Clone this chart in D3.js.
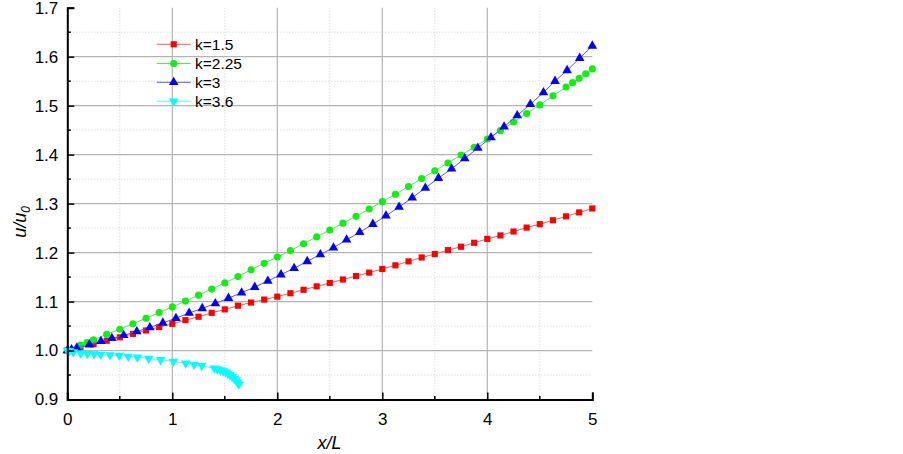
<!DOCTYPE html>
<html>
<head>
<meta charset="utf-8">
<script src="https://cdn.jsdelivr.net/npm/d3@7"></script>
<style>
  body { margin: 0; background: #fff; }
  svg { display: block; font-family: Arial, "Liberation Sans", sans-serif; }
</style>
</head>
<body>
<svg id="chart" width="903" height="454"></svg>
<script>
// ---------- data ----------
const seriesNames = ["k=1.5", "k=2.25", "k=3", "k=3.6"];

const xK15 = [0,0.125,0.25,0.375,0.5,0.625,0.75,0.875,1,1.125,1.25,1.375,1.5,1.625,1.75,1.875,2,2.125,2.25,2.375,2.5,2.625,2.75,2.875,3,3.125,3.25,3.375,3.5,3.625,3.75,3.875,4,4.125,4.25,4.375,4.5,4.625,4.75,4.875,5];
const yK15 = [1.000,1.0065,1.013,1.020,1.027,1.034,1.041,1.048,1.0545,1.062,1.069,1.077,1.084,1.0915,1.098,1.104,1.110,1.117,1.124,1.131,1.138,1.145,1.152,1.159,1.1665,1.174,1.182,1.190,1.197,1.205,1.212,1.220,1.228,1.235,1.243,1.251,1.258,1.266,1.274,1.282,1.290];

const xK225 = [0,0.125,0.1875,0.25,0.375,0.5,0.625,0.75,0.875,1,1.125,1.25,1.375,1.5,1.625,1.75,1.875,2,2.125,2.25,2.375,2.5,2.625,2.75,2.875,3,3.125,3.25,3.375,3.5,3.625,3.75,3.875,4,4.125,4.25,4.375,4.5,4.625,4.75,4.8125,4.875,4.9375,5];
const yK225 = [1.000,1.011,1.0165,1.022,1.033,1.0435,1.0545,1.066,1.0775,1.089,1.101,1.113,1.1255,1.138,1.151,1.165,1.178,1.191,1.204,1.218,1.232,1.246,1.260,1.274,1.289,1.304,1.319,1.335,1.351,1.367,1.383,1.399,1.415,1.432,1.449,1.4665,1.484,1.5015,1.520,1.538,1.547,1.556,1.565,1.575];

const xK3 = [0,0.04,0.09,0.21,0.32,0.425,0.537,0.662,0.786,0.91,1.035,1.16,1.285,1.41,1.535,1.66,1.785,1.91,2.035,2.16,2.285,2.41,2.535,2.66,2.785,2.91,3.035,3.16,3.285,3.41,3.535,3.66,3.785,3.91,4.035,4.16,4.285,4.41,4.535,4.645,4.76,4.88,5];
const yK3 = [1.000,1.002,1.005,1.012,1.019,1.025,1.031,1.039,1.047,1.0565,1.066,1.0765,1.086,1.096,1.107,1.118,1.1295,1.142,1.155,1.168,1.182,1.196,1.210,1.226,1.2415,1.258,1.275,1.293,1.312,1.332,1.352,1.371,1.392,1.4135,1.435,1.457,1.480,1.503,1.527,1.550,1.572,1.597,1.622];

const xK36 = [0,0.02,0.057,0.128,0.19,0.254,0.318,0.407,0.495,0.58,0.667,0.775,0.889,1.01,1.127,1.207,1.28,1.40,1.43,1.46,1.486,1.51,1.53,1.55,1.57,1.59,1.607,1.622,1.635];
const yK36 = [1.000,0.999,0.9967,0.9947,0.9935,0.9928,0.992,0.991,0.9897,0.988,0.9862,0.9838,0.981,0.9776,0.974,0.9714,0.9688,0.9637,0.962,0.960,0.958,0.9555,0.953,0.950,0.9465,0.9425,0.939,0.935,0.931];

const xTicks = [0,1,2,3,4,5];
const yTicks = [0.9,1.0,1.1,1.2,1.3,1.4,1.5,1.6,1.7];
const xMinor = [0.5,1.5,2.5,3.5,4.5];
const yMinor = [0.95,1.05,1.15,1.25,1.35,1.45,1.55,1.65];

// ---------- layout ----------
const svg = d3.select("#chart");
const pLeft = 67.3, pRight = 592.3, pTop = 7.7, pBottom = 399.5;
const x = d3.scaleLinear().domain([0,5]).range([pLeft,pRight]);
const y = d3.scaleLinear().domain([0.9,1.7]).range([pBottom,pTop]);

const series = [
  {name: seriesNames[0], xs: xK15, ys: yK15, line: "#ff5a5a", fill: "#ff0000", sym: d3.symbolSquare, size: 38, rot: 0},
  {name: seriesNames[1], xs: xK225, ys: yK225, line: "#55e855", fill: "#11ee11", sym: d3.symbolCircle, size: 40, rot: 0},
  {name: seriesNames[2], xs: xK3, ys: yK3, line: "#5555ff", fill: "#0000ff", sym: d3.symbolTriangle, size: 40, rot: 0},
  {name: seriesNames[3], xs: xK36, ys: yK36, line: "#55ffff", fill: "#00ffff", sym: d3.symbolTriangle, size: 40, rot: 180}
];

// ---------- grid ----------
const grid = svg.append("g");
grid.selectAll(".vmin").data(xMinor).join("line")
  .attr("x1", d => x(d)).attr("x2", d => x(d)).attr("y1", pTop).attr("y2", pBottom)
  .attr("stroke", "#cfcfcf").attr("stroke-width", 1).attr("stroke-dasharray", "1,2");
grid.selectAll(".hmin").data(yMinor).join("line")
  .attr("x1", pLeft).attr("x2", pRight).attr("y1", d => y(d)).attr("y2", d => y(d))
  .attr("stroke", "#cfcfcf").attr("stroke-width", 1).attr("stroke-dasharray", "1,2");
grid.selectAll(".vmaj").data(xTicks.filter(d => d > 0 && d < 5)).join("line")
  .attr("x1", d => x(d)).attr("x2", d => x(d)).attr("y1", pTop).attr("y2", pBottom)
  .attr("stroke", "#b4b4b4").attr("stroke-width", 1.2);
grid.selectAll(".hmaj").data(yTicks.filter(d => d > 0.95 && d < 1.65)).join("line")
  .attr("x1", pLeft).attr("x2", pRight).attr("y1", d => y(d)).attr("y2", d => y(d))
  .attr("stroke", "#b4b4b4").attr("stroke-width", 1.2);

// ---------- series ----------
const lineGen = d3.line().x(d => x(d[0])).y(d => y(d[1]));
series.forEach(s => {
  const pts = s.xs.map((v, i) => [v, s.ys[i]]);
  svg.append("path").datum(pts)
    .attr("d", lineGen).attr("fill", "none")
    .attr("stroke", s.line).attr("stroke-width", 1);
  const sym = d3.symbol().type(s.sym).size(s.size);
  svg.append("g").selectAll("path").data(pts).join("path")
    .attr("d", sym)
    .attr("transform", d => `translate(${x(d[0])},${y(d[1])}) rotate(${s.rot})`)
    .attr("fill", s.fill);
});

// ---------- axes ----------
const axisG = svg.append("g");
const xAxis = axisG.append("g").attr("transform", `translate(0,${pBottom})`)
  .call(d3.axisBottom(x).tickValues(xTicks).tickSize(-7).tickPadding(14).tickFormat(d3.format("d")));
const yAxis = axisG.append("g").attr("transform", `translate(${pLeft},0)`)
  .call(d3.axisLeft(y).tickValues(yTicks).tickSize(-7).tickPadding(9).tickFormat(d3.format(".1f")));
[xAxis, yAxis].forEach(g => {
  g.select(".domain").attr("stroke", "#000").attr("stroke-width", 2);
  g.selectAll(".tick line").attr("stroke", "#000").attr("stroke-width", 1.5);
  g.selectAll(".tick text").attr("fill", "#000").style("font-size", "17px").style("font-family", "Arial, 'Liberation Sans', sans-serif");
});
xAxis.selectAll(".tick text").attr("dy", "0.66em");
// minor ticks
axisG.append("g").selectAll("line").data(xMinor).join("line")
  .attr("x1", d => x(d)).attr("x2", d => x(d)).attr("y1", pBottom).attr("y2", pBottom - 3.5)
  .attr("stroke", "#000").attr("stroke-width", 1.5);
axisG.append("g").selectAll("line").data(yMinor).join("line")
  .attr("x1", pLeft).attr("x2", pLeft + 3.5).attr("y1", d => y(d)).attr("y2", d => y(d))
  .attr("stroke", "#000").attr("stroke-width", 1.5);

// ---------- axis titles ----------
svg.append("text").attr("x", 329.5).attr("y", 449).attr("text-anchor", "middle")
  .style("font-size", "18px").style("font-style", "italic").text("x/L");
const yt = svg.append("text").attr("transform", "translate(26,222) rotate(-90)")
  .attr("text-anchor", "middle").style("font-size", "18px").style("font-style", "italic");
yt.append("tspan").text("u/u");
yt.append("tspan").attr("dy", 4).style("font-size", "12px").text("0");

// ---------- legend ----------
const legY = [44.3, 63.5, 82.3, 101.3];
const leg = svg.append("g");
series.forEach((s, i) => {
  leg.append("line").attr("x1", 156.7).attr("x2", 190.7).attr("y1", legY[i]).attr("y2", legY[i])
    .attr("stroke", s.line).attr("stroke-width", 1);
  leg.append("path").attr("d", d3.symbol().type(s.sym).size(s.size)())
    .attr("transform", `translate(173.7,${legY[i]}) rotate(${s.rot})`).attr("fill", s.fill);
  leg.append("text").attr("x", 195).attr("y", legY[i]).attr("dy", "0.35em")
    .style("font-size", "15.5px").text(s.name);
});
</script>
</body>
</html>
